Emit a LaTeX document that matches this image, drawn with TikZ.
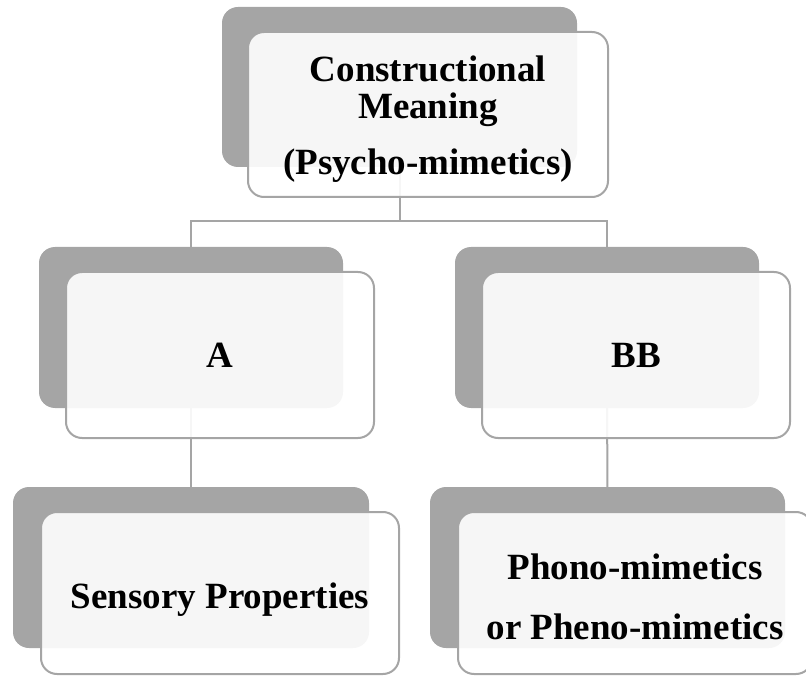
\documentclass[tikz,border=0pt]{standalone}
\usepackage{fontspec}
\setmainfont{Liberation Serif}
\usetikzlibrary{backgrounds}
\definecolor{shade}{HTML}{A5A5A5}
\definecolor{edge}{HTML}{A5A5A5}
\begin{document}
\begin{tikzpicture}[x=1pt,y=-1pt,
  back/.style={rectangle,rounded corners=16pt,fill=shade,draw=none,inner sep=0pt},
  front/.style={rectangle,rounded corners=16pt,fill=white,fill opacity=0.9,draw=edge,line width=2pt,inner sep=0pt},
  lbl/.style={inner sep=0pt,align=center,font=\fontsize{37}{37}\selectfont\bfseries},
  link/.style={draw=edge,line width=2pt}]
\useasboundingbox (0,0) rectangle (806,676);
% back plates
\node[back,minimum width=355pt,minimum height=160pt] (g0) at (399.5,87) {};
\node[back,minimum width=304pt,minimum height=161pt] (g1) at (191,327.5) {};
\node[back,minimum width=304pt,minimum height=161pt] (g2) at (607,327.5) {};
\node[back,minimum width=356pt,minimum height=161pt] (g3) at (191,567.5) {};
\node[back,minimum width=355pt,minimum height=161pt] (g4) at (607.5,567.5) {};
% connectors behind the plates
\coordinate (bus) at (399.5,221);
\begin{scope}[on background layer]
\draw[link] (g0.center) -- (bus);
\draw[link] (g1.center) |- (bus) -| (g2.center);
\draw[link] (g1.center) -- (g3.center);
\draw[link] (g2.center) -- (g4.center);
\end{scope}
% front boxes
\node[front,minimum width=360pt,minimum height=165pt] (w0) at (428,114.5) {};
\node[front,minimum width=308pt,minimum height=166pt] (w1) at (220,355) {};
\node[front,minimum width=308pt,minimum height=166pt] (w2) at (636,355) {};
\node[front,minimum width=358pt,minimum height=162pt] (w3) at (220,593) {};
\node[front,minimum width=354pt,minimum height=162pt] (w4) at (635,593) {};
% texts
\node[lbl,yshift=-5pt] (t0) at (w0.center) {Constructional\\Meaning\\[19pt](Psycho-mimetics)};
\node[lbl] (t1) at (w1.center) {A};
\node[lbl] (t2) at (w2.center) {BB};
\node[lbl,yshift=-7pt] (t3) at (w3.center) {Sensory Properties};
\node[lbl,yshift=-4pt] (t4) at (w4.center) {Phono-mimetics\\[23pt]or Pheno-mimetics};
\end{tikzpicture}
\end{document}
